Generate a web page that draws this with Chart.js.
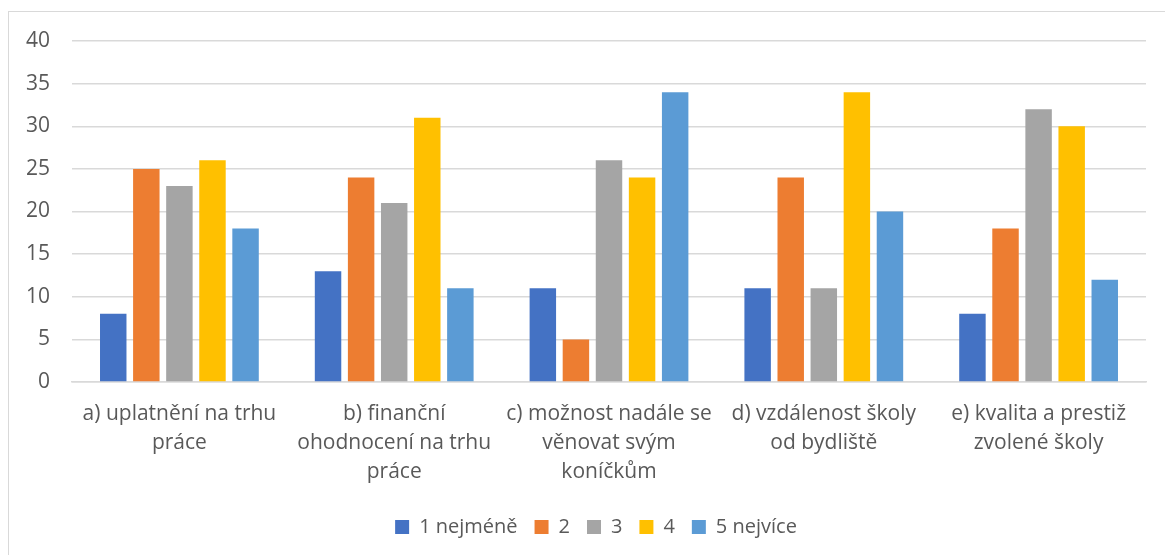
<!DOCTYPE html>
<html>
<head>
<meta charset="utf-8">
<script src="https://cdn.jsdelivr.net/npm/chart.js@4"></script>
<style>
    html, body { margin: 0; padding: 0; background: #fff; }
    #wrap { position: relative; width: 1165px; height: 555px; }
    #frame { position: absolute; left: 8px; top: 11px; width: 1170px; height: 560px; border: 1px solid #d9d9d9; box-sizing: border-box; }
    #chart { position: absolute; left: 0; top: 0; }
</style>
</head>
<body>
<div id="wrap">
    <div id="frame"></div>
    <canvas id="chart" width="1165" height="555"></canvas>
</div>
<script>
// Kategorie (popisky na ose x)
const kategorie = [
    ['a) uplatnění na trhu', 'práce'],
    ['b) finanční', 'ohodnocení na trhu', 'práce'],
    ['c) možnost nadále se', 'věnovat svým', 'koníčkům'],
    ['d) vzdálenost školy', 'od bydliště'],
    ['e) kvalita a prestiž', 'zvolené školy']
];

// Hodnoty jednotlivých řad
const rada1 = [8, 13, 11, 11, 8];
const rada2 = [25, 24, 5, 24, 18];
const rada3 = [23, 21, 26, 11, 32];
const rada4 = [26, 31, 24, 34, 30];
const rada5 = [18, 11, 34, 20, 12];

const nazvyRad = ['1 nejméně', '2', '3', '4', '5 nejvíce'];
const barvy = ['#4472C4', '#ED7D31', '#A5A5A5', '#FFC000', '#5B9BD5'];

// Osa y
const osaMin = 0;
const osaMax = 40;
const osaKrok = 5;

const textColor = '#595959';
const fontFamily = '"Open Sans", "Liberation Sans", sans-serif';

const datasets = [rada1, rada2, rada3, rada4, rada5].map((data, i) => ({
    label: nazvyRad[i],
    data: data,
    backgroundColor: barvy[i],
    borderWidth: 0,
    categoryPercentage: 0.77,
    barPercentage: 0.8
}));

// Posun legendy na střed celého rámečku
const posunLegendy = {
    id: 'posunLegendy',
    afterLayout(chart) {
        if (chart.legend) {
            chart.legend.left += 23;
            chart.legend.right += 23;
        }
    }
};

new Chart(document.getElementById('chart').getContext('2d'), {
    type: 'bar',
    data: { labels: kategorie, datasets: datasets },
    plugins: [posunLegendy],
    options: {
        responsive: false,
        animation: false,
        layout: { padding: { top: 41, right: 19, bottom: 8, left: 0 } },
        plugins: {
            tooltip: { enabled: false },
            legend: {
                position: 'bottom',
                labels: {
                    color: textColor,
                    font: { family: fontFamily, size: 20 },
                    boxWidth: 14,
                    boxHeight: 14,
                    padding: 17
                }
            }
        },
        scales: {
            x: {
                grid: { display: false, drawTicks: false },
                border: { color: '#d9d9d9', width: 1.5 },
                ticks: {
                    color: textColor,
                    font: { family: fontFamily, size: 21, lineHeight: 1.4 },
                    padding: 17,
                    maxRotation: 0,
                    autoSkip: false
                },
                afterFit: function(scale) { scale.height = 118; }
            },
            y: {
                min: osaMin,
                max: osaMax,
                grid: { color: '#d9d9d9', lineWidth: 1.5, drawTicks: false },
                border: { display: false },
                ticks: {
                    stepSize: osaKrok,
                    color: textColor,
                    font: { family: fontFamily, size: 21 },
                    padding: 22
                },
                afterFit: function(scale) { scale.width = 72; }
            }
        }
    }
});
</script>
</body>
</html>
